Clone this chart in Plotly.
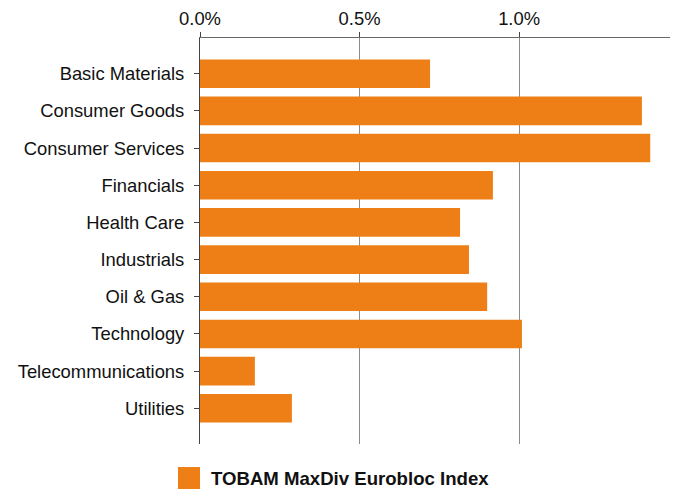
import plotly.graph_objects as go

categories = ["Basic Materials", "Consumer Goods", "Consumer Services", "Financials",
              "Health Care", "Industrials", "Oil & Gas", "Technology",
              "Telecommunications", "Utilities"]
values = [0.721, 1.385, 1.411, 0.918, 0.815, 0.843, 0.900, 1.009, 0.172, 0.288]
series_name = "TOBAM MaxDiv Eurobloc Index"
tick_vals = [0.0, 0.5, 1.0]
tick_text = ["0.0%", "0.5%", "1.0%"]

ORANGE = "#EE7F16"
FONT = "Liberation Sans, Arial, sans-serif"
FS = 18.4
TXT = "#111111"

fig = go.Figure()
fig.add_trace(go.Bar(
    x=values, y=categories, orientation="h",
    marker=dict(color=ORANGE, line=dict(width=0)),
    width=0.77, name=series_name, showlegend=False,
))

W, H = 679, 490
L, R, T, B = 200, 9, 38, 46
pw = W - L - R
ph = H - T - B

fig.update_layout(
    width=W, height=H,
    margin=dict(l=L, r=R, t=T, b=B),
    paper_bgcolor="white", plot_bgcolor="white",
    font=dict(family=FONT, size=FS, color=TXT),
    xaxis=dict(
        side="top", range=[0, 1.473], tickvals=tick_vals, ticktext=tick_text,
        showgrid=True, gridcolor="#8c8c8c", gridwidth=1,
        showline=True, linecolor="#666666", linewidth=1,
        ticks="outside", ticklen=5, tickcolor="#444444",
        zeroline=False, tickfont=dict(size=FS, color=TXT),
        fixedrange=True,
    ),
    yaxis=dict(
        categoryorder="array", categoryarray=categories,
        range=[9.96, -0.96],
        showline=True, linecolor="#444444", linewidth=1,
        ticks="outside", ticklen=5, tickcolor="#444444",
        ticklabelstandoff=6,
        showgrid=False, zeroline=False,
        tickfont=dict(size=FS, color=TXT),
        fixedrange=True,
    ),
)

# legend key box plus label below the plot
fig.add_shape(type="rect", xref="paper", yref="paper",
              x0=(178 - L) / pw, x1=(200 - L) / pw,
              y0=((T + ph) - 467) / ph, y1=((T + ph) - 489) / ph,
              fillcolor=ORANGE, line=dict(width=0))
fig.add_annotation(xref="paper", yref="paper",
                   x=(209 - L) / pw, y=((T + ph) - 478) / ph,
                   xanchor="left", yanchor="middle", showarrow=False,
                   text="<b>" + series_name + "</b>",
                   font=dict(family=FONT, size=18.6, color=TXT))

fig.write_html("out.html",
               config={"displayModeBar": False},
               post_script="document.body.style.margin='0';document.body.style.padding='0';")
